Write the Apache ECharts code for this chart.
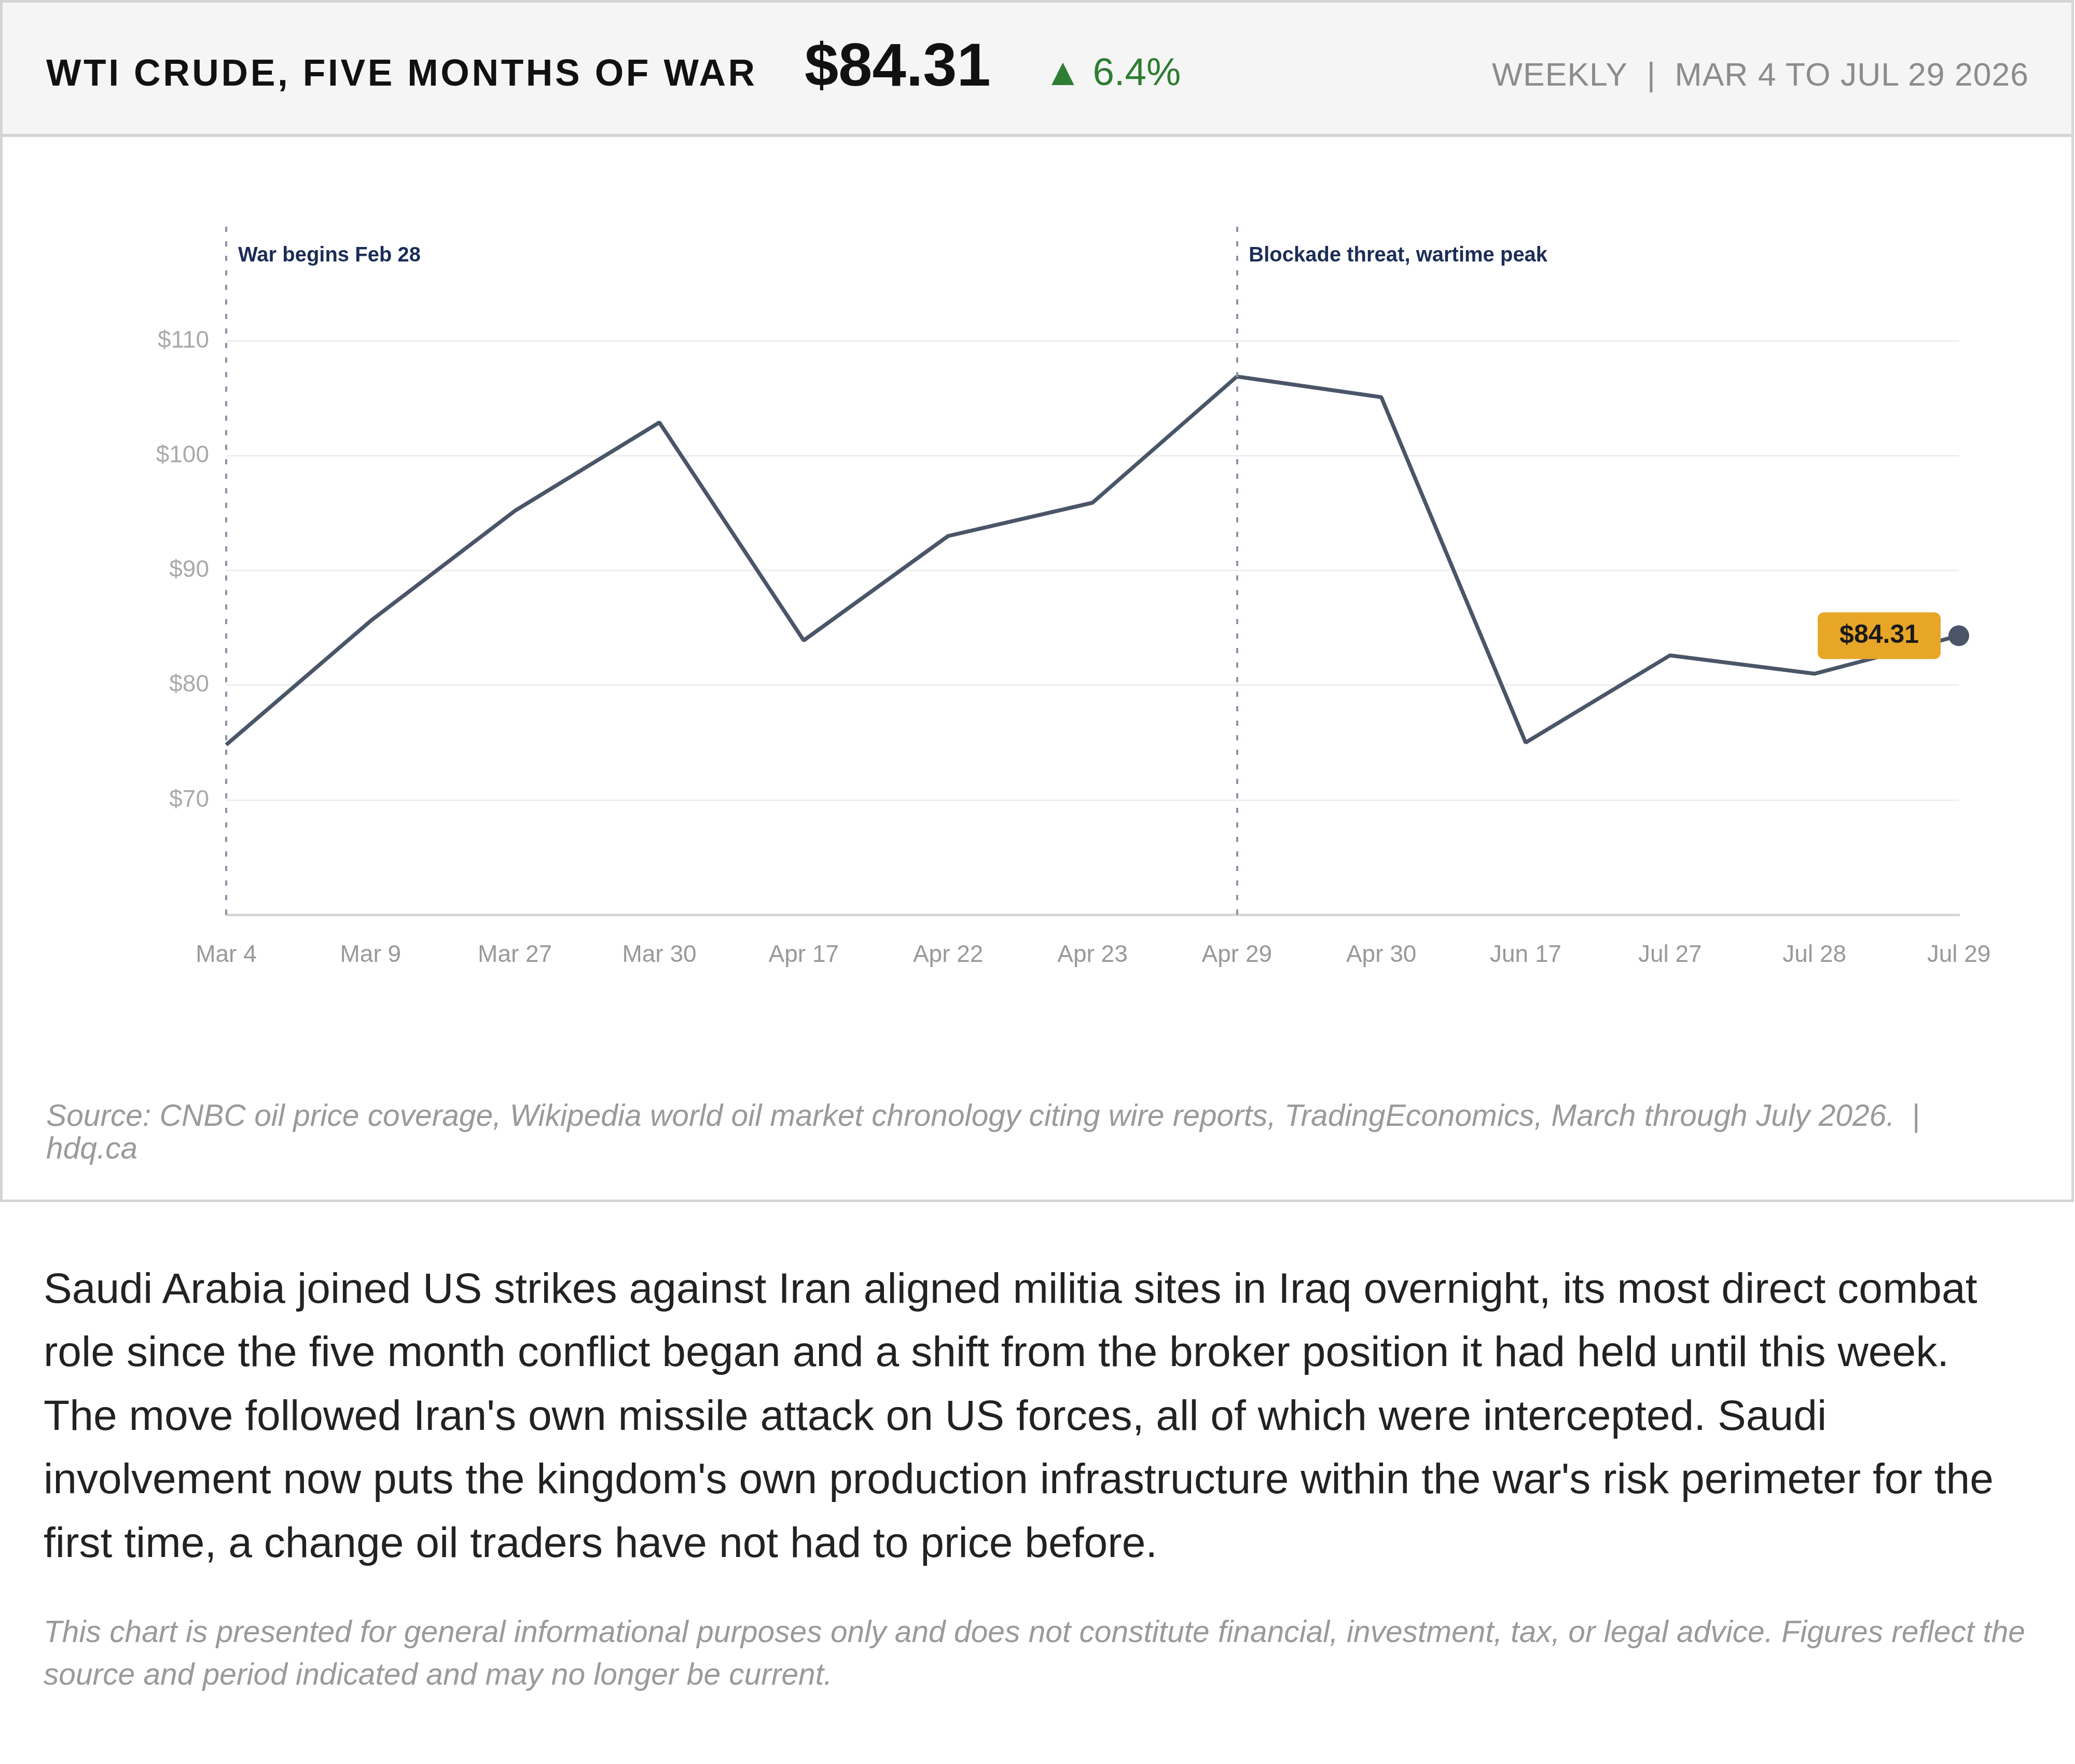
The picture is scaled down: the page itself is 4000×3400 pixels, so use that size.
<!DOCTYPE html>
<html>
<head>
<meta charset="utf-8">
<script src="https://cdn.jsdelivr.net/npm/echarts@6/dist/echarts.min.js"></script>
<style>
  html, body { margin:0; padding:0; background:#ffffff; width:4000px; height:3400px; overflow:hidden;
    font-family:"Liberation Sans", Arial, Helvetica, sans-serif; }
  .abs { position:absolute; white-space:nowrap; }
  #card { position:absolute; left:0; top:0; width:3988px; height:2307px; border:5px solid #d4d4d4; background:#fff; }
  #header { position:absolute; left:5px; top:5px; width:3988px; height:253px; background:#f5f5f5; border-bottom:6px solid #d4d4d4; }
  #title { left:89px; top:105px; font-size:71.4px; line-height:71.4px; font-weight:bold; color:#111; letter-spacing:4.6px; }
  #price { left:1551px; top:66px; font-size:117.3px; line-height:117.3px; font-weight:bold; color:#111; }
  #change { left:2012px; top:102px; font-size:74.5px; line-height:74.5px; color:#2e7d32; }
  #period { right:89px; top:112px; font-size:62.5px; line-height:62.5px; color:#8c8c8c; letter-spacing:1px; }
  #chart { position:absolute; left:0; top:264px; width:4000px; height:1700px; }
  #source { position:absolute; left:89px; top:2119px; width:3760px; font-size:58.7px; line-height:62.5px; font-style:italic; color:#9a9a9a; }
  #para { position:absolute; left:84px; top:2422px; width:3790px; font-size:82.2px; line-height:122.4px; color:#222; }
  #disc { position:absolute; left:84px; top:3104px; width:3845px; font-size:58.7px; line-height:82px; font-style:italic; color:#9a9a9a; }
</style>
</head>
<body>
<div id="card"></div>
<div id="header"></div>
<div class="abs" id="title">WTI CRUDE, FIVE MONTHS OF WAR</div>
<div class="abs" id="price">$84.31</div>
<div class="abs" id="change">▲ 6.4%</div>
<div class="abs" id="period">WEEKLY&nbsp; |&nbsp; MAR 4 TO JUL 29 2026</div>
<div id="chart"></div>
<div id="source">Source: CNBC oil price coverage, Wikipedia world oil market chronology citing wire reports, TradingEconomics, March through July 2026.&nbsp; |&nbsp; hdq.ca</div>
<div id="para">Saudi Arabia joined US strikes against Iran aligned militia sites in Iraq overnight, its most direct combat role since the five month conflict began and a shift from the broker position it had held until this week. The move followed Iran's own missile attack on US forces, all of which were intercepted. Saudi involvement now puts the kingdom's own production infrastructure within the war's risk perimeter for the first time, a change oil traders have not had to price before.</div>
<div id="disc">This chart is presented for general informational purposes only and does not constitute financial, investment, tax, or legal advice. Figures reflect the source and period indicated and may no longer be current.</div>
<script>
const categories = ['Mar 4','Mar 9','Mar 27','Mar 30','Apr 17','Apr 22','Apr 23','Apr 29','Apr 30','Jun 17','Jul 27','Jul 28','Jul 29'];
const prices = [74.8, 85.6, 95.2, 102.9, 83.9, 93.0, 95.9, 106.9, 105.1, 75.0, 82.6, 81.0, 84.31];
const yMin = 60;
const yMax = 120;
const yInterval = 10;
const eventDates = ['Mar 4', 'Apr 29'];
const eventLabels = ['War begins Feb 28', 'Blockade threat, wartime peak'];
const lastLabel = '$84.31';

const FONT = '"Liberation Sans", Arial, Helvetica, sans-serif';
const last = prices.length - 1;
const seriesData = prices.map(function (v, i) {
  if (i !== last) return v;
  return {
    value: v,
    symbol: 'circle',
    symbolSize: 40,
    label: {
      show: true, position: 'left', distance: 15, formatter: lastLabel,
      fontSize: 50, lineHeight: 50, fontWeight: 'bold', color: '#1a1a1a', fontFamily: FONT,
      backgroundColor: '#e8a628', borderRadius: 12, padding: [27, 42, 13, 42]
    }
  };
});

const chart = echarts.init(document.getElementById('chart'), null, { renderer: 'canvas' });
chart.setOption({
  animation: false,
  backgroundColor: 'transparent',
  grid: { left: 436, right: 224, top: 172, bottom: 201, containLabel: false },
  xAxis: {
    type: 'category', data: categories, boundaryGap: false,
    axisLine: { show: true, lineStyle: { color: '#d6d6d6', width: 5 } },
    axisTick: { show: false },
    axisLabel: { interval: 0, margin: 55, color: '#999999', fontSize: 46, fontFamily: FONT },
    splitLine: { show: false }
  },
  yAxis: {
    type: 'value', min: yMin, max: yMax, interval: yInterval,
    axisLine: { show: false }, axisTick: { show: false },
    axisLabel: { formatter: '${value}', color: '#aaaaaa', fontSize: 46, margin: 33, fontFamily: FONT,
      showMinLabel: false, showMaxLabel: false },
    splitLine: { show: true, showMinLine: false, showMaxLine: false, lineStyle: { color: '#eeeeee', width: 3 } }
  },
  series: [{
    type: 'line',
    data: seriesData,
    symbol: 'circle',
    symbolSize: 0,
    showSymbol: true,
    showAllSymbol: true,
    silent: true,
    itemStyle: { color: '#4a5568' },
    lineStyle: { color: '#4a5568', width: 7.5 },
    emphasis: { disabled: true },
    z: 3,
    markLine: {
      silent: true, symbol: ['none', 'none'], animation: false,
      label: { show: false },
      lineStyle: { color: '#8a94a6', width: 4, type: [10, 18] },
      data: eventDates.map(function (d) { return { xAxis: d }; })
    },
    markPoint: {
      silent: true, animation: false,
      symbol: 'circle', symbolSize: 0,
      itemStyle: { color: 'transparent' },
      label: { show: true, position: 'right', distance: 23, offset: [0, 57],
        color: '#1b2d57', fontWeight: 'bold', fontSize: 40, fontFamily: FONT },
      data: eventDates.map(function (d, i) {
        return { coord: [d, yMax], value: eventLabels[i], label: { formatter: eventLabels[i] } };
      })
    }
  }]
});
</script>
</body>
</html>
